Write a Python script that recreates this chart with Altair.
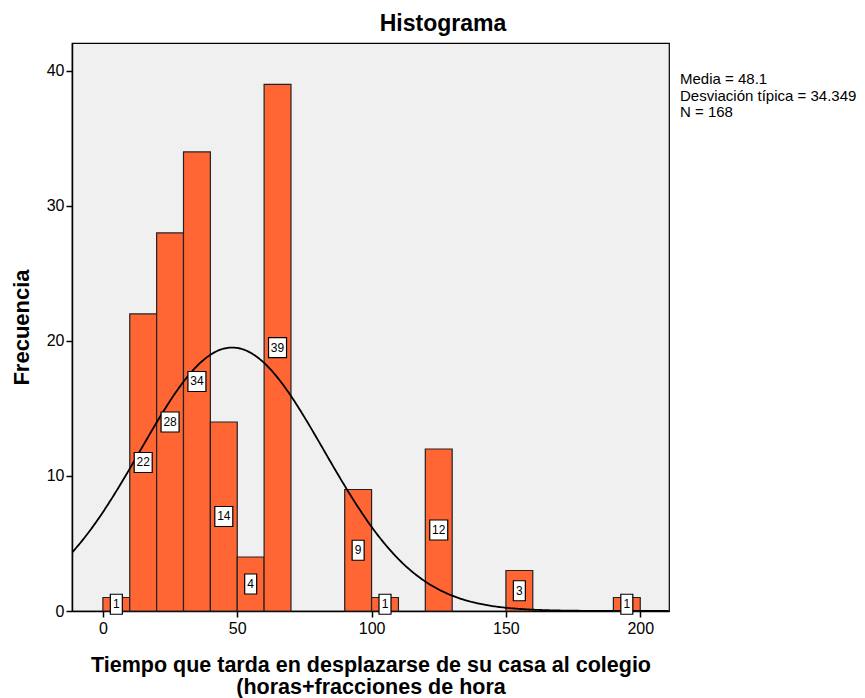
import altair as alt
import pandas as pd

# ---- data ----
bin_start = [0, 10, 20, 30, 40, 50, 60, 90, 100, 120, 150, 190]
counts = [1, 22, 28, 34, 14, 4, 39, 9, 1, 12, 3, 1]
bin_width = 10
mean_val = 48.1
sd_val = 34.349
n_val = 168
stats_lines = ["Media = 48.1", "Desviación típica = 34.349", "N = 168"]
x_ticks = [0, 50, 100, 150, 200]
y_ticks = [0, 10, 20, 30, 40]

FONT = "Liberation Sans"
W, H = 597, 568
X_DOM = [-11.5, 210.7]
Y_DOM = [0, 42.07]

df = pd.DataFrame({
    "start": bin_start,
    "end": [s + bin_width for s in bin_start],
    "mid": [s + bin_width / 2 for s in bin_start],
    "count": counts,
    "half": [c / 2 for c in counts],
    "label": [str(c) for c in counts],
    "digits": [str(len(str(c))) for c in counts],
})

xs = alt.Scale(domain=X_DOM, nice=False, zero=False)
ys = alt.Scale(domain=Y_DOM, nice=False)

x_axis = alt.Axis(values=x_ticks, title=["Tiempo que tarda en desplazarse de su casa al colegio",
                                           "(horas+fracciones de hora"],
                  grid=False, tickSize=6, labelFontSize=16, labelFont=FONT,
                  titleFont=FONT, titleFontSize=21.5, titleFontWeight="bold",
                  titleLineHeight=22, titlePadding=18, titleColor="black",
                  labelColor="black", domainColor="black", tickColor="black",
                  labelPadding=3, tickWidth=1.5, domainWidth=1.5)
y_axis = alt.Axis(values=y_ticks, title="Frecuencia", grid=False, tickSize=6,
                  labelFontSize=16, labelFont=FONT, titleFont=FONT, titleFontSize=22,
                  titleFontWeight="bold", titlePadding=13, titleColor="black",
                  labelColor="black", domainColor="black", tickColor="black",
                  labelPadding=2, tickWidth=1.5, domainWidth=1.5)

bars = alt.Chart(df).mark_rect(fill="#FF6633", stroke="#222222", strokeWidth=1.2).encode(
    x=alt.X("start:Q", scale=xs, axis=x_axis),
    x2="end:Q",
    y=alt.Y("count:Q", scale=ys, axis=y_axis),
    y2=alt.datum(0),
)

curve = alt.Chart(alt.sequence(-11.5, 210.8, 0.5, as_="x")).transform_calculate(
    y=f"{n_val}*{bin_width}*exp(-0.5*pow((datum.x-{mean_val})/{sd_val},2))/({sd_val}*sqrt(2*PI))"
).mark_line(color="black", strokeWidth=1.8, clip=True).encode(
    x=alt.X("x:Q", scale=xs),
    y=alt.Y("y:Q", scale=ys),
)

box1 = "M-0.6,-1L0.6,-1L0.6,1L-0.6,1Z"
box2 = "M-0.9,-1L0.9,-1L0.9,1L-0.9,1Z"
boxes = alt.Chart(df).mark_point(filled=True, fill="white", stroke="black",
                                 strokeWidth=1.2, opacity=1, fillOpacity=1).encode(
    x=alt.X("mid:Q", scale=xs),
    y=alt.Y("half:Q", scale=ys),
    shape=alt.Shape("digits:N", scale=alt.Scale(domain=["1", "2"], range=[box1, box2]), legend=None),
    size=alt.value(400),
)

labels = alt.Chart(df).mark_text(font=FONT, fontSize=12, color="black", baseline="middle").encode(
    x=alt.X("mid:Q", scale=xs),
    y=alt.Y("half:Q", scale=ys),
    text="label:N",
)

title_df = pd.DataFrame({"t": ["Histograma"]})
title = alt.Chart(title_df).mark_text(font=FONT, fontSize=23, fontWeight="bold",
                                      color="black", baseline="middle").encode(
    x=alt.value(371), y=alt.value(-19), text="t:N")

stats_df = pd.DataFrame({"t": stats_lines, "yy": [36, 52.5, 69]})
stats = alt.Chart(stats_df).mark_text(font=FONT, fontSize=15, color="black",
                                      align="left", baseline="middle").encode(
    x=alt.value(608), y=alt.Y("yy:Q", scale=None), text="t:N")

chart = alt.layer(bars, curve, boxes, labels, title, stats).properties(
    width=W, height=H,
    autosize=alt.AutoSizeParams(type="none"),
    padding={"left": 64, "top": 35, "right": 188, "bottom": 87},
    background="white",
).configure_view(fill="#F0F0F0", stroke="black", strokeWidth=1.2)

chart.save("out.html", embed_options={"renderer": "svg", "actions": False})
